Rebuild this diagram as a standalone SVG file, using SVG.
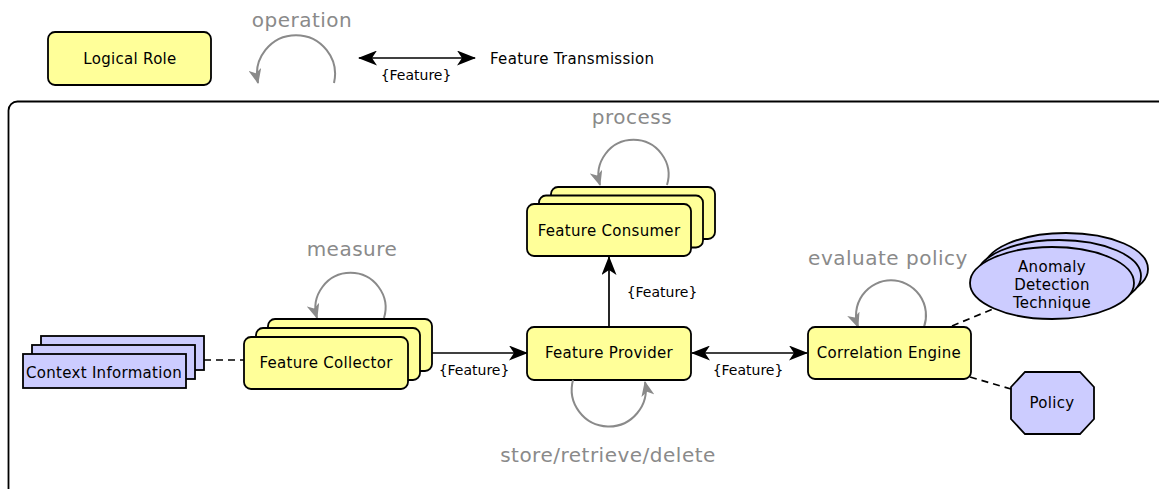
<svg xmlns="http://www.w3.org/2000/svg" width="1159" height="489" viewBox="0 0 1159 489">
<style>
.role{fill:#ffff99;stroke:#000;stroke-width:1.8}
.ctx{fill:#ccccff;stroke:#000;stroke-width:1.8}
.lbl{font-family:"DejaVu Sans",sans-serif;font-size:15px;letter-spacing:0.3px;fill:#000;text-anchor:middle}
.small{font-family:"DejaVu Sans",sans-serif;font-size:14px;fill:#000;text-anchor:middle}
.op{font-family:"DejaVu Sans",sans-serif;font-size:20px;letter-spacing:0.5px;fill:#8a8a8a;text-anchor:middle}
.arc{fill:none;stroke:#8a8a8a;stroke-width:2;marker-end:url(#garrow)}
.conn{fill:none;stroke:#000;stroke-width:1.7}
.dash{fill:none;stroke:#000;stroke-width:1.7;stroke-dasharray:7,5}
</style>
<defs>
<marker id="barrow" markerUnits="userSpaceOnUse" markerWidth="19" markerHeight="15" refX="18" refY="7.5" orient="auto-start-reverse">
<path d="M0,0 L19,7.5 L0,15 L5,7.5 Z" fill="#000"/>
</marker>
<marker id="garrow" markerUnits="userSpaceOnUse" markerWidth="15" markerHeight="13" refX="14" refY="6.5" orient="auto">
<path d="M0,0 L15,6.5 L0,13 L4,6.5 Z" fill="#8a8a8a"/>
</marker>
</defs>
<rect x="0" y="0" width="1159" height="489" fill="#fff"/>

<g id="legend">
<rect class="role" x="48" y="32" width="163" height="53" rx="7"/>
<text class="lbl" x="130" y="64">Logical Role</text>
<text class="op" x="302" y="27">operation</text>
<path class="arc" d="M334,83 A39,39 0 1 0 258,83"/>
<line class="conn" x1="359" y1="58" x2="475" y2="58" marker-start="url(#barrow)" marker-end="url(#barrow)"/>
<text class="small" x="416" y="80">{Feature}</text>
<text class="lbl" x="490" y="64" style="text-anchor:start">Feature Transmission</text>
</g>

<g id="frame">
<rect x="8.5" y="101.5" width="1175" height="420" rx="9" fill="none" stroke="#000" stroke-width="1.8"/>
</g>

<g id="connectors">
<line class="dash" x1="204" y1="360" x2="244" y2="360"/>
<line class="conn" x1="432" y1="353" x2="527" y2="353" marker-end="url(#barrow)"/>
<text class="small" x="474" y="375">{Feature}</text>
<line class="conn" x1="609" y1="327" x2="609" y2="257" marker-end="url(#barrow)"/>
<text class="small" x="662" y="297">{Feature}</text>
<line class="conn" x1="692" y1="353" x2="807" y2="353" marker-start="url(#barrow)" marker-end="url(#barrow)"/>
<text class="small" x="748" y="375">{Feature}</text>
<line class="dash" x1="952" y1="326" x2="993" y2="309"/>
<line class="dash" x1="970" y1="377" x2="1011" y2="389"/>
</g>

<g id="context-information">
<rect class="ctx" x="41" y="336" width="163" height="34"/>
<rect class="ctx" x="32" y="345" width="163" height="34"/>
<rect class="ctx" x="23" y="354" width="163" height="34"/>
<text class="lbl" x="104" y="378">Context Information</text>
</g>

<g id="feature-collector">
<text class="op" x="352" y="256">measure</text>
<path class="arc" d="M384,318 A35,35 0 1 0 317,318"/>
<rect class="role" x="268" y="319" width="164" height="52" rx="7"/>
<rect class="role" x="256" y="328" width="164" height="52" rx="7"/>
<rect class="role" x="244" y="337" width="164" height="52" rx="7"/>
<text class="lbl" x="326" y="368">Feature Collector</text>
</g>

<g id="feature-consumer">
<text class="op" x="632" y="124">process</text>
<path class="arc" d="M667,185 A35,35 0 1 0 600,185"/>
<rect class="role" x="551" y="187" width="164" height="52" rx="7"/>
<rect class="role" x="539" y="195.5" width="164" height="52" rx="7"/>
<rect class="role" x="527" y="204" width="164" height="52" rx="7"/>
<text class="lbl" x="609" y="236">Feature Consumer</text>
</g>

<g id="feature-provider">
<rect class="role" x="527" y="327" width="164" height="53" rx="7"/>
<text class="lbl" x="609" y="358">Feature Provider</text>
<path class="arc" d="M573,380 A37,37 0 1 0 645,382"/>
<text class="op" x="608" y="462">store/retrieve/delete</text>
</g>

<g id="correlation-engine">
<text class="op" x="888" y="265">evaluate policy</text>
<path class="arc" d="M924,327 A35,35 0 1 0 858,327"/>
<rect class="role" x="808" y="327" width="163" height="52" rx="7"/>
<text class="lbl" x="889" y="358">Correlation Engine</text>
</g>

<g id="anomaly-detection-technique">
<ellipse class="ctx" cx="1066" cy="269" rx="82" ry="36"/>
<ellipse class="ctx" cx="1059" cy="276" rx="82" ry="36"/>
<ellipse class="ctx" cx="1052" cy="283" rx="82" ry="36"/>
<text class="lbl" x="1052" y="272">Anomaly</text>
<text class="lbl" x="1052" y="290">Detection</text>
<text class="lbl" x="1052" y="308">Technique</text>
</g>

<g id="policy">
<polygon class="ctx" points="1025,372 1080,372 1094,387 1094,419 1080,434 1025,434 1011,419 1011,387"/>
<text class="lbl" x="1052" y="408">Policy</text>
</g>
</svg>
